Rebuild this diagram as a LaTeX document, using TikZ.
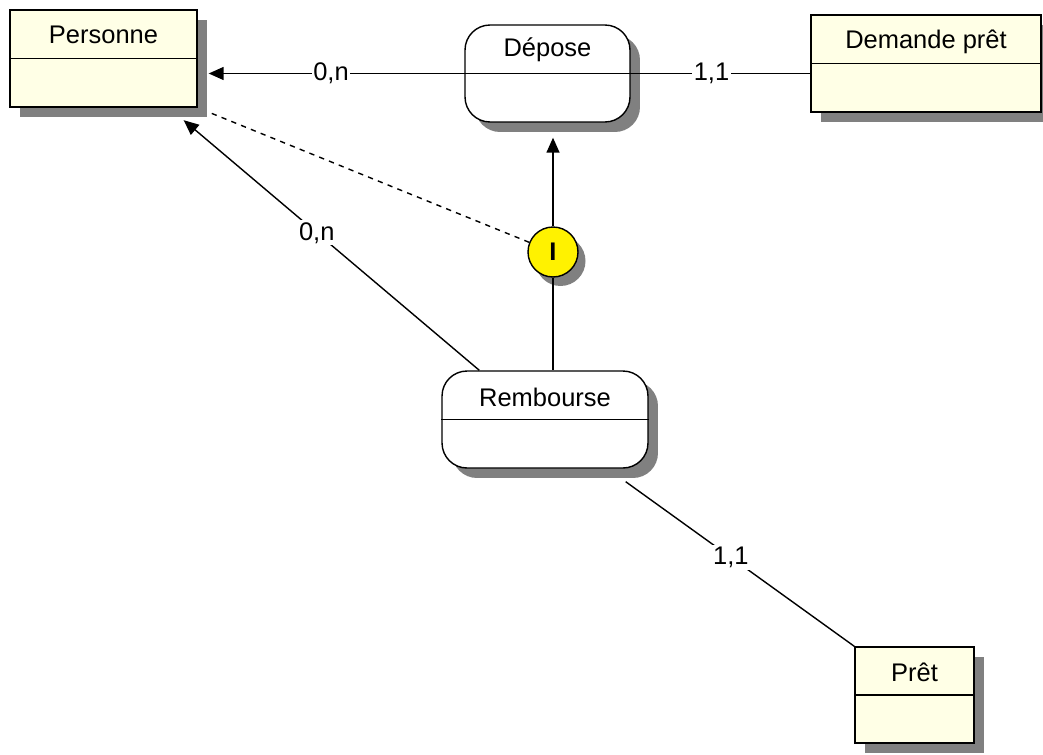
\documentclass[tikz,border=0pt]{standalone}
\usepackage{fontspec}
\setmainfont{Liberation Sans}
\usetikzlibrary{shadows,arrows.meta}
\definecolor{entyellow}{RGB}{255,255,230}
\definecolor{shadowgray}{RGB}{128,128,128}
\tikzset{
  shade/.style={drop shadow={shadow xshift=0.2cm,shadow yshift=-0.2cm,fill=shadowgray,opacity=1}},
  entity/.style={draw,thick,fill=entyellow,shade},
  relation/.style={draw,thick,fill=white,rounded corners=0.5cm,shade},
  card/.style={fill=white,inner sep=1pt},
  tip/.style={-{Triangle[length=0.3cm,width=0.26cm]}}
}
\begin{document}
\begin{tikzpicture}[x=0.02cm,y=-0.02cm,font=\fontsize{14.5}{17}\selectfont]
\clip (0,0) rectangle (1043,754);
\fill[white] (0,0) rectangle (1043,754);
\node[entity,minimum width=3.74cm,minimum height=1.94cm] (pers) at (103.5,58.5) {};
\node[relation,minimum width=3.3cm,minimum height=1.94cm] (dep) at (547.5,73.5) {};
\node[entity,minimum width=4.6cm,minimum height=1.94cm] (dem) at (926,63.5) {};
\node[relation,minimum width=4.12cm,minimum height=1.94cm] (remb) at (545,419.5) {};
\node[entity,minimum width=2.38cm,minimum height=1.92cm] (pret) at (914.5,695) {};
\node[circle,draw,thick,fill=yellow,minimum size=1cm,inner sep=0pt,
  drop shadow={shadow xshift=0.15cm,shadow yshift=-0.18cm,fill=shadowgray,opacity=1}] (circ) at (553,252) {\textbf{I}};
\foreach \n in {pers,dep,dem,remb,pret} {
  \draw[thick] (\n.west) -- (\n.east);
}
\node (perstxt) at (103.5,35) {Personne};
\node (deptxt) at (547.5,50) {Dépose};
\node (demtxt) at (926,42) {Demande prêt};
\node (rembtxt) at (545,397) {Rembourse};
\node (prettxt) at (914.5,672) {Prêt};
\draw[thick,tip,shorten >=0.22cm] (dep.west) -- (dep.west -| pers.east)
  node[card,pos=0.5] (c1) {0,n};
\draw[thick] (dep.east) -- (dep.east -| dem.west) node[card,pos=0.45] (c2) {1,1};
\draw[thick,tip,shorten >=0.3cm] (circ.north) -- (circ.north |- dep.south);
\draw[thick] (circ.south) -- (circ.south |- remb.north);
\draw[thick,dash pattern=on 3pt off 3pt,shorten >=0.25cm] (circ) -- (pers.south east);
\draw[thick,tip] ([xshift=0.76cm]remb.north west) -- ([xshift=-0.28cm,yshift=-0.25cm]pers.south east)
  node[card,pos=0.55] (c3) {0,n};
\draw[thick] ([xshift=-0.46cm,yshift=-0.26cm]remb.south east) -- (pret.north west)
  node[card,pos=0.46] (c4) {1,1};
\end{tikzpicture}
\end{document}
